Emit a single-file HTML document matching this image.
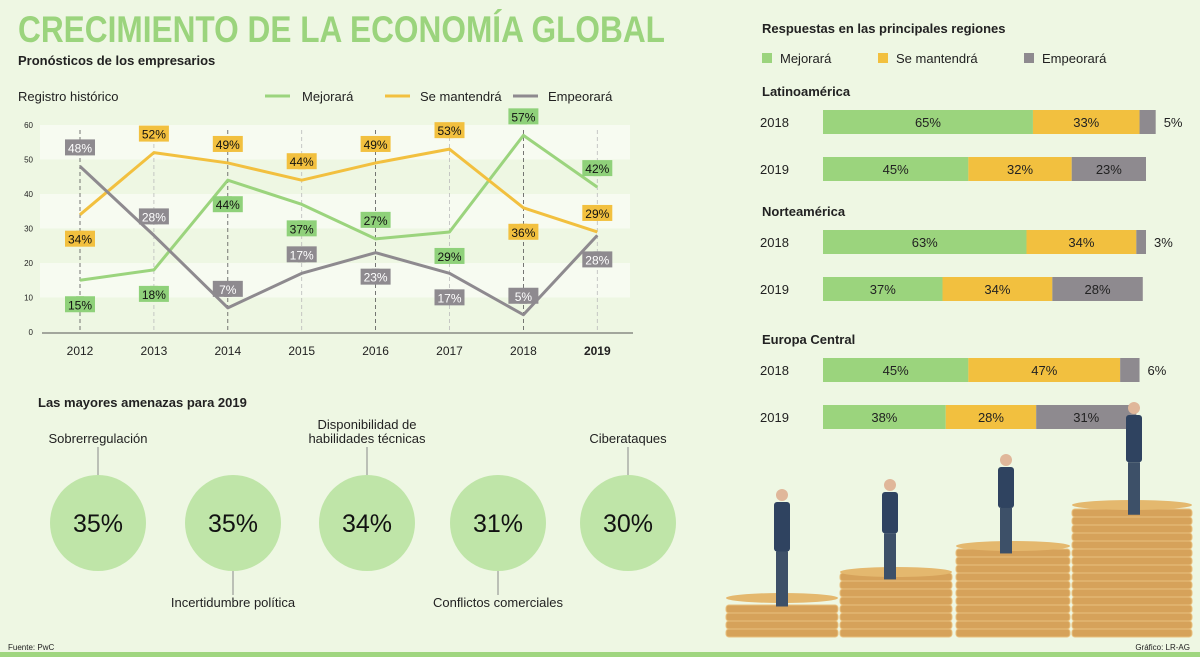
<!DOCTYPE html>
<html><head><meta charset="utf-8"><style>
html,body{margin:0;padding:0;background:#eef7e3;}
svg{display:block;font-family:"Liberation Sans",sans-serif;}
</style></head><body>
<svg id="s" width="1200" height="657" viewBox="0 0 1200 657">
<rect x="0" y="0" width="1200" height="657" fill="#eef7e3"/>
<rect x="0" y="652" width="1200" height="5" fill="#9fd67f"/>
<text x="18" y="42" font-size="37" font-weight="bold" fill="#9bd47d" textLength="647" lengthAdjust="spacingAndGlyphs">CRECIMIENTO DE LA ECONOMÍA GLOBAL</text>
<text x="18" y="65" font-size="13" font-weight="bold" fill="#222">Pronósticos de los empresarios</text>
<text x="18" y="101" font-size="13" fill="#222">Registro histórico</text>
<g>
<line x1="265" y1="96" x2="290" y2="96" stroke="#9bd47d" stroke-width="3"/>
<text x="302" y="101" font-size="13" fill="#222">Mejorará</text>
<line x1="385" y1="96" x2="410" y2="96" stroke="#f2c03f" stroke-width="3"/>
<text x="420" y="101" font-size="13" fill="#222">Se mantendrá</text>
<line x1="513" y1="96" x2="538" y2="96" stroke="#8e8a8f" stroke-width="3"/>
<text x="548" y="101" font-size="13" fill="#222">Empeorará</text>
</g>
<g id="lc"></g>
<g id="bc"></g>
<text x="38" y="407" font-size="13" font-weight="bold" fill="#222">Las mayores amenazas para 2019</text>
<g id="th"></g>
<g id="ill"></g>
<text x="8" y="650" font-size="8" fill="#222">Fuente: PwC</text>
<text x="1190" y="650" font-size="8" fill="#222" text-anchor="end">Gráfico: LR-AG</text>
</svg>
<script>
const years=["2012","2013","2014","2015","2016","2017","2018","2019"];
const mejorara=[15,18,44,37,27,29,57,42];
const mantendra=[34,52,49,44,49,53,36,29];
const empeorara=[48,28,7,17,23,17,5,28];
const yTicks=[0,10,20,30,40,50,60];
const NS="http://www.w3.org/2000/svg";
function mk(tag,at,parent){const e=document.createElementNS(NS,tag);for(const k in at)e.setAttribute(k,at[k]);parent.appendChild(e);return e;}
const lc=document.getElementById('lc');
const xS=i=>80+i*73.9;
const yS=v=>332-v*3.45;
[[10,20],[30,40],[50,60]].forEach(b=>{const r=mk('rect',{x:40,y:yS(b[1]),width:590,height:yS(b[0])-yS(b[1]),fill:'#f7fbf1'},lc);

});
yTicks.forEach(t=>{const tx=mk('text',{x:33,y:yS(t)+3,'font-size':8,fill:'#222','text-anchor':'end'},lc);tx.textContent=t;

});
const ax=mk('line',{x1:42,y1:333,x2:633,y2:333,stroke:'#555','stroke-width':1},lc);


years.forEach((y,i)=>{const dark=(i%2==0);
const l=mk('line',{x1:xS(i),y1:yS(60)+5,x2:xS(i),y2:333,stroke:dark?'#555':'#bbb','stroke-width':0.8,'stroke-dasharray':'4,3'},lc);


const t=mk('text',{x:xS(i),y:355,'font-size':12,fill:'#222','text-anchor':'middle','font-weight':i==7?'bold':'normal'},lc);t.textContent=y;

});
const series=[[mejorara,'#9bd47d','#8fd17a',[1,1,1,1,-1,1,-1,-1],'mejorara'],[mantendra,'#f2c03f','#f2c03f',[1,-1,-1,-1,-1,-1,1,-1],'mantendra'],[empeorara,'#8e8a8f','#8e8a8f',[-1,-1,-1,-1,1,1,-1,1],'empeorara']];
series.forEach(s=>{const d=s[0].map((v,i)=>(i?'L':'M')+xS(i)+','+yS(v)).join(' ');
const p=mk('path',{d:d,fill:'none',stroke:s[1],'stroke-width':3,'stroke-linejoin':'round'},lc);

});
series.forEach(s=>{s[0].forEach((v,i)=>{const dir=s[3][i];const px=xS(i),py=yS(v);
const cy=dir<0?py-19:py+24;const g=mk('g',{},lc);


mk('rect',{x:px-15,y:cy-8,width:30,height:16,fill:s[2]},g);
const ty=dir<0?cy+8:cy-8;mk('path',{d:`M${px-4},${ty} L${px},${ty-dir*-6} L${px+4},${ty} Z`,fill:s[2]},g);
const t=mk('text',{x:px,y:cy+5,'font-size':12,'text-anchor':'middle',fill:s[4]=='empeorara'?'#fff':'#111'},g);t.textContent=v+'%';});});

const regions=["Latinoamérica","Norteamérica","Europa Central"];
const barYears=["2018","2019"];
const barMejorara=[65,45,63,37,45,38];
const barMantendra=[33,32,34,34,47,28];
const barEmpeorara=[5,23,3,28,6,31];
const bc=document.getElementById('bc');
let t0=mk('text',{x:762,y:33,'font-size':13,'font-weight':'bold',fill:'#222'},bc);t0.textContent='Respuestas en las principales regiones';


[['Mejorará','#9bd47d',762],['Se mantendrá','#f2c03f',878],['Empeorará','#8e8a8f',1024]].forEach(l=>{
const g=mk('g',{},bc);


mk('rect',{x:l[2],y:53,width:10,height:10,fill:l[1]},g);const t=mk('text',{x:l[2]+18,y:63,'font-size':13,fill:'#222'},g);t.textContent=l[0];});
const regionY=[91,211,339];
const bx=823,bw=3.23;
regions.forEach((r,ri)=>{const t=mk('text',{x:762,y:regionY[ri]+5,'font-size':13,'font-weight':'bold',fill:'#222'},bc);t.textContent=r;


barYears.forEach((yr,yi)=>{const k=ri*2+yi;const y0=regionY[ri]+19+yi*47;
const yl=mk('text',{x:760,y:y0+17,'font-size':13,fill:'#222'},bc);yl.textContent=yr;


let x=bx;[[barMejorara[k],'#9bd47d'],[barMantendra[k],'#f2c03f'],[barEmpeorara[k],'#8e8a8f']].forEach((seg,si)=>{
const w=seg[0]*bw;const rc=mk('rect',{x:x,y:y0,width:w,height:24,fill:seg[1]},bc);


const small=seg[0]<10;const tx=mk('text',{x:small?x+w+8:x+w/2,y:y0+17,'font-size':13,fill:'#222','text-anchor':small?'start':'middle'},bc);tx.textContent=seg[0]+'%';
x+=w;});});});

const threatLabels=["Sobrerregulación","Incertidumbre política","Disponibilidad de|habilidades técnicas","Conflictos comerciales","Ciberataques"];
const threatValues=[35,35,34,31,30];
const th=document.getElementById('th');
const cxs=[98,233,367,498,628];
threatValues.forEach((v,i)=>{const cx=cxs[i],cy=523;const below=(i==1||i==3);
const g=mk('g',{},th);


mk('circle',{cx:cx,cy:cy,r:48,fill:'#bfe5a8'},g);
const t=mk('text',{x:cx,y:cy+9,'font-size':25,'text-anchor':'middle',fill:'#111'},g);t.textContent=v+'%';
const lines=threatLabels[i].split('|');
if(below){mk('line',{x1:cx,y1:cy+48,x2:cx,y2:595,stroke:'#888'},g);
const l=mk('text',{x:cx,y:607,'font-size':13,'text-anchor':'middle',fill:'#222'},g);l.textContent=lines[0];}
else{mk('line',{x1:cx,y1:447,x2:cx,y2:cy-48,stroke:'#888'},g);
lines.forEach((ln,j)=>{const l=mk('text',{x:cx,y:443-(lines.length-1-j)*14,'font-size':13,'text-anchor':'middle',fill:'#222'},g);l.textContent=ln;});}});

const ill=document.getElementById('ill');
[[726,838,598],[840,952,572],[956,1070,546],[1072,1192,505]].forEach(s=>{
for(let y=637-8;y>=s[2];y-=8){mk('rect',{x:s[0],y:y,width:s[1]-s[0],height:8,rx:3,fill:'#d6a25a',stroke:'#e8c07e','stroke-width':1},ill);}
mk('ellipse',{cx:(s[0]+s[1])/2,cy:s[2],rx:(s[1]-s[0])/2,ry:5,fill:'#e4b86e'},ill);});
[[782,490,110],[890,480,92],[1006,455,91],[1134,403,105]].forEach(p=>{const x=p[0],y=p[1],h=p[2];
mk('circle',{cx:x,cy:y+5,r:6,fill:'#e0b79a'},ill);
mk('rect',{x:x-8,y:y+12,width:16,height:h*0.45,rx:3,fill:'#2f4360'},ill);
mk('rect',{x:x-6,y:y+12+h*0.45,width:12,height:h*0.5,fill:'#3d5068'},ill);});
</script>
</body></html>
